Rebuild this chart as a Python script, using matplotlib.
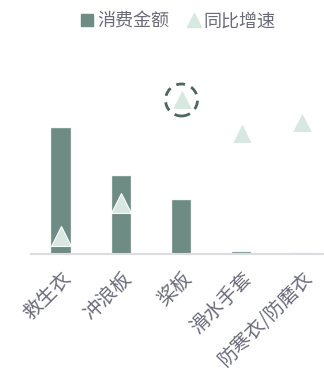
import matplotlib
matplotlib.use('Agg')
import matplotlib.pyplot as plt
import matplotlib.transforms as mtransforms
from matplotlib.patches import Circle
from matplotlib.lines import Line2D
import numpy as np

plt.rcParams['font.family'] = ['Noto Sans CJK SC', 'DejaVu Sans']

categories = ['救生衣', '冲浪板', '桨板', '滑水手套', '防寒衣/防磨衣']
amount = [6.3, 3.9, 2.7, 0.1, 0.06]      # 消费金额
growth = [18, 51, 155, 121, 132]         # 同比增速 (%)
highlight = 2                             # 桨板

bar_color = '#6e8c84'
tri_color = '#d6e8e0'
text_color = '#6b6b7b'

fig = plt.figure(figsize=(3.24, 3.79), dpi=100)
ax = fig.add_axes([31/324, 125/379, 301/324, 174/379])
x = np.arange(len(categories))

ax.bar(x, amount, width=0.32, color=bar_color, edgecolor='#dfe8e5', linewidth=0.3, zorder=2)
ax.set_xlim(-0.5, len(categories) - 0.5)
ax.set_ylim(0, 8.7)

ax2 = ax.twinx()
ax2.plot(x, growth, linestyle='none', marker='^', markersize=15,
         color=tri_color, markeredgecolor='white', markeredgewidth=0.8, zorder=3)
ax2.set_ylim(0, 174)

# dashed ring around the highlighted point
tr = fig.dpi_scale_trans + mtransforms.ScaledTranslation(x[highlight], growth[highlight] - 1, ax2.transData)
ring = Circle((0, 0), radius=0.16, transform=tr, fill=False, edgecolor='#4d6660',
              linewidth=2, linestyle=(0, (3.2, 2.4)), clip_on=False, zorder=4)
ax2.add_patch(ring)

for a in (ax, ax2):
    for s in a.spines.values():
        s.set_visible(False)
    a.set_yticks([])
ax.spines['bottom'].set_visible(True)
ax.spines['bottom'].set_color('#dcdce2')
ax.spines['bottom'].set_linewidth(1.5)
ax.set_xticks(x)
ax.set_xticklabels(categories, rotation=45, ha='right', rotation_mode='anchor',
                   fontsize=14, color=text_color)
ax.tick_params(axis='x', length=0, pad=10)

handles = [
    Line2D([], [], linestyle='none', marker='s', markersize=8, color=bar_color),
    Line2D([], [], linestyle='none', marker='^', markersize=10, color=tri_color),
]
fig.legend(handles, ['消费金额', '同比增速'], loc='upper center', bbox_to_anchor=(0.545, 1.01),
           ncol=2, frameon=False, fontsize=13, labelcolor=text_color,
           handletextpad=0.0, columnspacing=0.8, handlelength=1.1)

fig.savefig('out.png', dpi=100)
